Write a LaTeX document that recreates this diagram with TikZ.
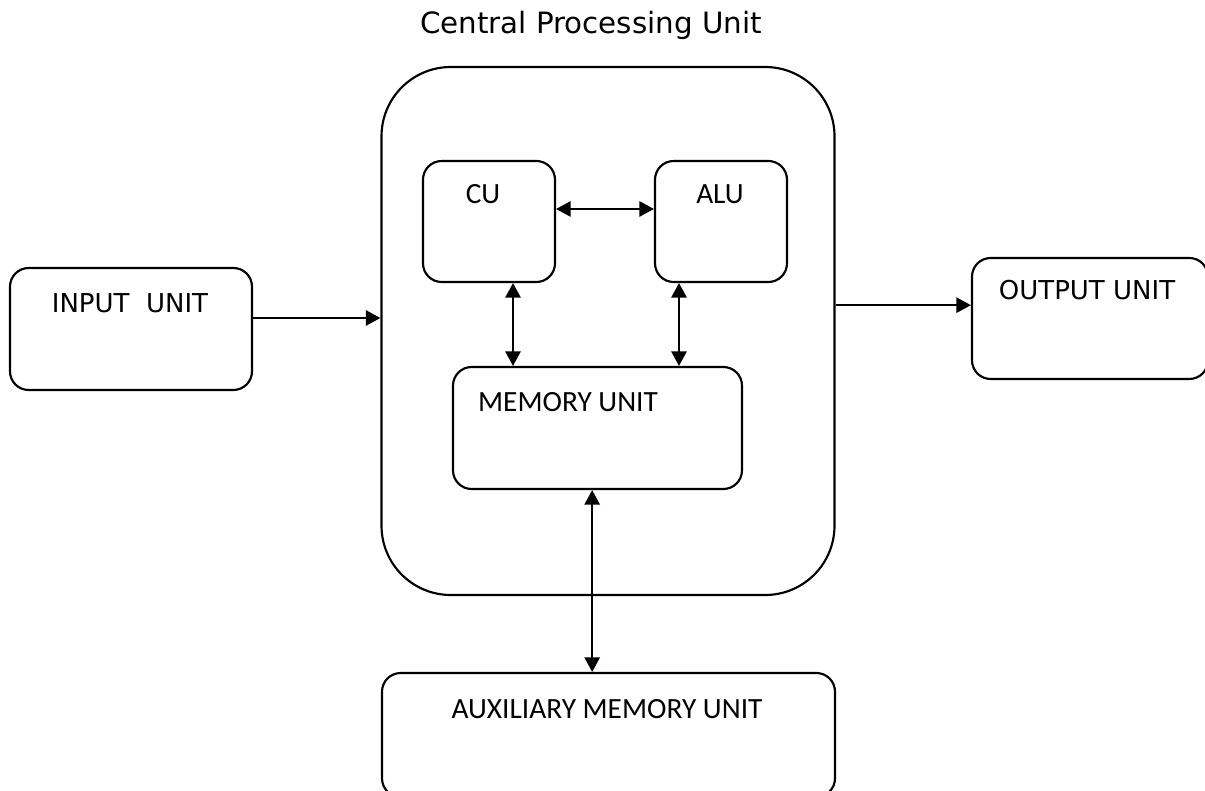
\documentclass[tikz,border=0pt]{standalone}
\usepackage{fontspec}
\usepackage{tikz}
\usetikzlibrary{arrows.meta}
\newfontfamily\verd{DejaVu Sans}
\newfontfamily\cali{Carlito}

\begin{document}
\begin{tikzpicture}[x=0.75pt,y=-0.75pt,
  box/.style={draw=black,line width=1.6pt,rounded corners=14pt,inner sep=0pt},
  lblv/.style={anchor=base,font=\verd\fontsize{19.5}{22}\selectfont},
  lblc/.style={anchor=base,font=\cali\fontsize{22}{26}\selectfont},
  arr/.style={line width=1.6pt,-{Triangle[length=11pt,width=11.5pt]}},
  dbl/.style={line width=1.6pt,{Triangle[length=11pt,width=11.5pt]}-{Triangle[length=11pt,width=11.5pt]}}]
\useasboundingbox (0,0) rectangle (1205,791);
\node [anchor=base,font=\verd\fontsize{22}{26}\selectfont] (title) at (591,34) {Central Processing Unit};
\node [box,rounded corners=52pt,minimum width=339.75pt,minimum height=396pt] (cpu) at (608,331) {};
\node [box,minimum width=181.5pt,minimum height=91.5pt] (inbox) at (131,329) {};
\node [box,minimum width=177pt,minimum height=90.75pt] (outbox) at (1090,318.5) {};
\node [box,minimum width=99pt,minimum height=90.75pt] (cu) at (489,221.5) {};
\node [box,minimum width=99pt,minimum height=90.75pt] (alu) at (721,221.5) {};
\node [box,minimum width=216.75pt,minimum height=91.5pt] (mem) at (597.5,428) {};
\node [box,minimum width=339.75pt,minimum height=93pt] (aux) at (608.5,735) {};
\node [lblv] (intext) at (130,312) {INPUT\ \ UNIT};
\node [lblv] (outtext) at (1087,300) {OUTPUT UNIT};
\node [lblc] (cutext) at (483,204) {CU};
\node [lblc] (alutext) at (720,204) {ALU};
\node [lblc] (memtext) at (568,411) {MEMORY UNIT};
\node [lblc] (auxtext) at (607,718) {AUXILIARY MEMORY UNIT};
\draw [arr] ([yshift=8.25pt]inbox.east) -- ([yshift=8.25pt]inbox.east -| cpu.west);
\draw [arr] ([yshift=10pt]outbox.west -| cpu.east) -- ([yshift=10pt]outbox.west);
\draw [dbl] ([yshift=9.4pt]cu.east) -- ([yshift=9.4pt]alu.west);
\draw [dbl] ([xshift=18pt]cu.south) -- ([xshift=18pt]cu.south |- mem.north);
\draw [dbl] ([xshift=-31.5pt]alu.south) -- ([xshift=-31.5pt]alu.south |- mem.north);
\draw [dbl] ([xshift=-4pt]mem.south) -- ([xshift=-4pt]mem.south |- aux.north);
\end{tikzpicture}
\end{document}
